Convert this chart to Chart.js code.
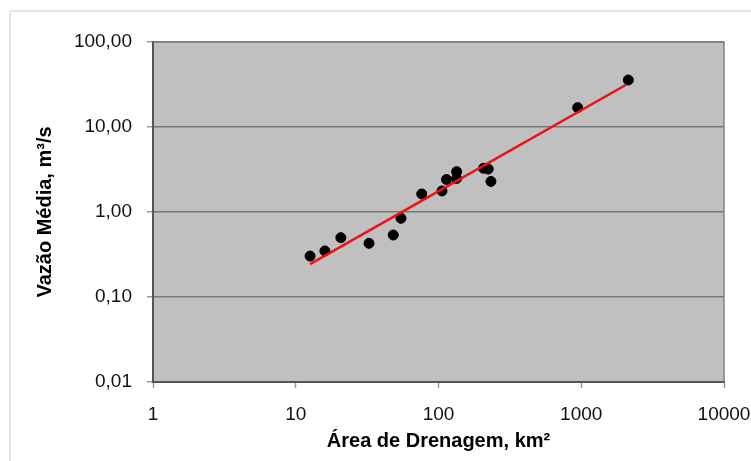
<!DOCTYPE html>
<html>
<head>
<meta charset="utf-8">
<script src="https://cdn.jsdelivr.net/npm/chart.js@4/dist/chart.umd.min.js"></script>
<style>
  html, body { margin: 0; padding: 0; background: #fff; }
  #wrap { position: relative; width: 751px; height: 461px; overflow: hidden; }
  #frame { position: absolute; left: 9px; top: 10px; width: 800px; height: 500px;
           border-top: 2px solid #e6e6e6; border-left: 2px solid #e6e6e6; pointer-events: none; }
  canvas { position: absolute; left: 0; top: 0; }
</style>
</head>
<body>
<div id="wrap">
  <canvas id="c" width="751" height="461"></canvas>
  <div id="frame"></div>
</div>
<script>
// Observed data: drainage area (km²) vs mean flow (m³/s)
const areas = [12.6, 16.0, 20.7, 32.6, 48.2, 54.6, 76.3, 105.8, 113.8, 134, 134, 206.6, 223, 233, 944, 2137];
const flows = [0.303, 0.348, 0.499, 0.428, 0.536, 0.843, 1.63, 1.77, 2.41, 2.98, 2.48, 3.27, 3.2, 2.29, 16.9, 35.7];

// Trend line (power fit) end points
const trendAreas = [12.6, 2048];
const trendFlows = [0.244, 31.2];

// Axis ticks
const xTickValues = [1, 10, 100, 1000, 10000];
const xTickLabels = ['1', '10', '100', '1000', '10000'];
const yTickValues = [0.01, 0.1, 1, 10, 100];
const yTickLabels = ['0,01', '0,10', '1,00', '10,00', '100,00'];

const xTitle = 'Área de Drenagem, km²';
const yTitle = 'Vazão Média, m³/s';

const FONT = "'Liberation Sans', Arial, sans-serif";

const plotBg = {
  id: 'plotBg',
  beforeDraw(chart) {
    const a = chart.chartArea, ctx = chart.ctx;
    ctx.save();
    ctx.fillStyle = '#c0c0c0';
    ctx.fillRect(a.left, a.top, a.right - a.left, a.bottom - a.top);
    ctx.restore();
  },
  afterDatasetsDraw(chart) {
    const a = chart.chartArea, ctx = chart.ctx;
    ctx.save();
    ctx.strokeStyle = '#808080';
    ctx.lineWidth = 1.5;
    ctx.beginPath();
    ctx.moveTo(a.left, a.top);
    ctx.lineTo(a.right, a.top);
    ctx.lineTo(a.right, a.bottom);
    ctx.stroke();
    ctx.restore();
  }
};

new Chart(document.getElementById('c'), {
  type: 'scatter',
  data: {
    datasets: [
      {
        type: 'line',
        label: 'Tendência',
        data: trendAreas.map((x, i) => ({ x: x, y: trendFlows[i] })),
        borderColor: '#ee1111',
        borderWidth: 2.5,
        pointRadius: 0,
        fill: false,
        order: 0
      },
      {
        label: 'Observado',
        data: areas.map((x, i) => ({ x: x, y: flows[i] })),
        backgroundColor: '#000000',
        borderColor: '#000000',
        pointRadius: 5,
        pointHoverRadius: 5,
        order: 1
      }
    ]
  },
  options: {
    responsive: false,
    animation: false,
    devicePixelRatio: 1,
    layout: { padding: { top: 42, right: 27, left: 0, bottom: 0 } },
    plugins: { legend: { display: false }, tooltip: { enabled: false } },
    scales: {
      x: {
        type: 'logarithmic',
        min: 1, max: 10000,
        afterBuildTicks: (s) => { s.ticks = xTickValues.map(v => ({ value: v })); },
        afterFit: (s) => { s.height = 79; s.paddingLeft = 0; s.paddingRight = 0; },
        ticks: {
          autoSkip: false, maxRotation: 0, padding: 15,
          color: '#111',
          font: { family: FONT, size: 19 },
          callback: (v, i) => xTickLabels[i]
        },
        grid: { drawOnChartArea: false, drawTicks: true, tickLength: 6, tickColor: '#999', tickWidth: 1.5 },
        border: { display: true, color: '#555', width: 2 },
        title: {
          display: true, text: xTitle, color: '#000',
          font: { family: FONT, size: 20, weight: 'bold' },
          padding: { top: 0, bottom: 8 }
        }
      },
      y: {
        type: 'logarithmic',
        min: 0.01, max: 100,
        afterBuildTicks: (s) => { s.ticks = yTickValues.map(v => ({ value: v })); },
        afterFit: (s) => { s.width = 153; s.paddingTop = 0; s.paddingBottom = 0; },
        ticks: {
          autoSkip: false, padding: 15,
          color: '#111',
          font: { family: FONT, size: 19 },
          callback: (v, i) => yTickLabels[i]
        },
        grid: { drawOnChartArea: true, color: '#787878', lineWidth: 1.5, drawTicks: true, tickLength: 6, tickColor: '#999', tickWidth: 1.5 },
        border: { display: true, color: '#555', width: 2 },
        title: {
          display: true, text: yTitle, color: '#000',
          font: { family: FONT, size: 20, weight: 'bold' },
          padding: { top: 33, bottom: 0 }
        }
      }
    }
  },
  plugins: [plotBg]
});
</script>
</body>
</html>
